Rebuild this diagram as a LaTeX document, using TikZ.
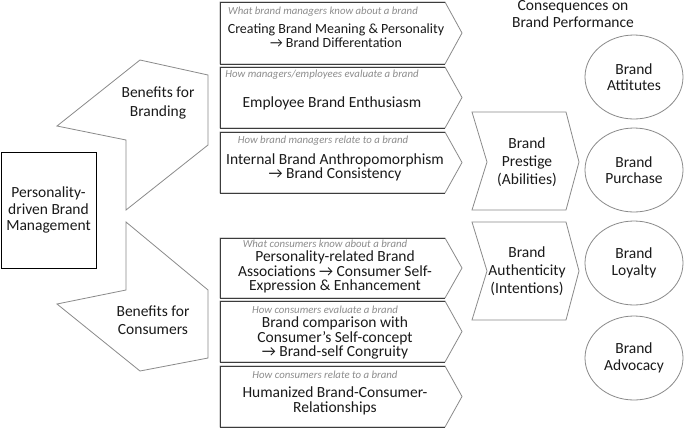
\documentclass[tikz,border=0pt]{standalone}
\usepackage{fontspec}
\setmainfont{Carlito}
\usetikzlibrary{shapes.geometric}
\definecolor{txt}{HTML}{1A1A1A}
\definecolor{hdr}{HTML}{8C8C8C}
\definecolor{edgeg}{HTML}{8A8A8A}
\definecolor{edged}{HTML}{3C3C3C}
\tikzset{
  main/.style={font=\fontsize{15.5}{14.4}\selectfont, text=txt, align=center, inner sep=0pt},
  small/.style={font=\fontsize{14}{14}\selectfont, text=txt, align=center, inner sep=0pt},
  loose/.style={font=\fontsize{15.5}{18.3}\selectfont, text=txt, align=center, inner sep=0pt},
  mid/.style={font=\fontsize{15.5}{16.5}\selectfont, text=txt, align=center, inner sep=0pt},
  hdrtext/.style={font=\fontsize{10.8}{12}\selectfont\itshape, text=hdr, inner sep=0pt},
  grayshape/.style={draw=edgeg, line width=0.8pt, fill=white, line join=miter},
  darkedge/.style={draw=edged, line width=0.8pt},
  outcome/.style={ellipse, draw=edgeg, line width=0.8pt, minimum width=98pt, minimum height=84pt, inner sep=0pt, mid}
}
\begin{document}
\begin{tikzpicture}[x=1pt,y=-1pt]
\useasboundingbox (0,0) rectangle (685,429);
\fill[white] (0,0) rectangle (685,429);

% left box
\draw[draw=black, line width=0.8pt] (1,152) rectangle (96,268);
\node[mid] (pbm) at (48.5,210) {Personality-\\driven Brand\\Management};

% benefit shapes
\draw[grayshape] (57,126) -- (140,60) -- (208,75) -- (208,145) -- (126,210) -- (126,140) -- cycle;
\node[loose] (bb) at (158,103) {Benefits for\\Branding};
\draw[grayshape] (126,222) -- (208,290) -- (208,358) -- (140,371) -- (57,304) -- (126,290) -- cycle;
\node[loose] (bc) at (153,320) {Benefits for\\Consumers};

% middle chevron boxes
\foreach \t/\b in {2/64, 67/128, 132/193, 238/298, 301/362, 366/427}{
  \draw[grayshape] (220,\t) -- (445,\t) -- (462,{(\t+\b)/2}) -- (445,\b) -- (220,\b) -- cycle;
  \draw[darkedge] (445,\t) -- (220,\t) -- (220,\b) -- (445,\b);
}
\node[hdrtext] (h1) at (323,12) {What brand managers know about a brand};
\node[small] (m1) at (336,36) {Creating Brand Meaning \& Personality\\→ Brand Differentation};
\node[hdrtext] (h2) at (322,75) {How managers/employees evaluate a brand};
\node[main] (m2) at (332,103) {Employee Brand Enthusiasm};
\node[hdrtext] (h3) at (323,141) {How brand managers relate to a brand};
\node[main] (m3) at (335,167.5) {Internal Brand Anthropomorphism\\→ Brand Consistency};
\node[hdrtext] (h4) at (325,244) {What consumers know about a brand};
\node[main] (m4) at (335,272) {Personality-related Brand\\Associations → Consumer Self-\\Expression \& Enhancement};
\node[hdrtext] (h5) at (325,310) {How consumers evaluate a brand};
\node[main] (m5) at (335,338) {Brand comparison with\\Consumer’s Self-concept\\→ Brand-self Congruity};
\node[hdrtext] (h6) at (325,375) {How consumers relate to a brand};
\node[main] (m6) at (335,401) {Humanized Brand-Consumer-\\Relationships};

% right chevrons
\draw[grayshape] (472,112) -- (566,112) -- (579,162) -- (566,210) -- (472,210) -- (487,162) -- cycle;
\node[loose] (bp) at (527,162) {Brand\\Prestige\\(Abilities)};
\draw[grayshape] (472,222) -- (566,222) -- (579,271) -- (566,320) -- (472,320) -- (487,271) -- cycle;
\node[loose] (ba) at (527,271) {Brand\\Authenticity\\(Intentions)};

% consequences
\node[mid] (cons) at (573,14) {Consequences on\\Brand Performance};
\node[outcome] (o1) at (634,77) {Brand\\Attitutes};
\node[outcome] (o2) at (634,170) {Brand\\Purchase};
\node[outcome] (o3) at (634,263) {Brand\\Loyalty};
\node[outcome] (o4) at (634,358) {Brand\\Advocacy};
\end{tikzpicture}
\end{document}
